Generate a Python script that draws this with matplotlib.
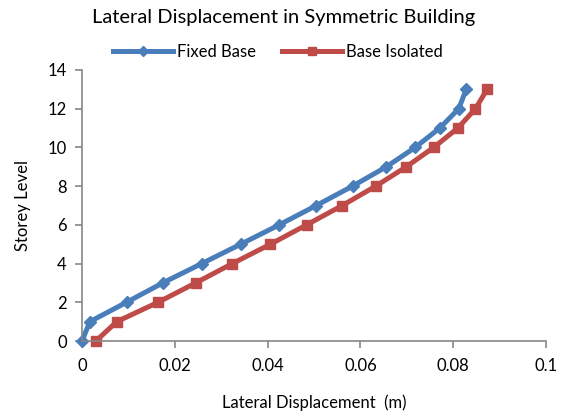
import matplotlib.pyplot as plt

# storey levels and lateral displacement (m)
storeys = list(range(0, 14))
fixed_base = [0.0, 0.0017, 0.0096, 0.0174, 0.0258, 0.0342, 0.0425, 0.0505,
              0.0583, 0.0656, 0.0718, 0.0771, 0.0812, 0.0828]
base_isolated = [0.0030, 0.0075, 0.0164, 0.0245, 0.0324, 0.0406, 0.0484, 0.0561,
                 0.0633, 0.0699, 0.0758, 0.0810, 0.0848, 0.0873]

plt.rcParams['font.family'] = ['Lato', 'DejaVu Sans']

fig = plt.figure(figsize=(5.67, 4.17), dpi=100)
ax = fig.add_axes([82 / 567, 1 - 341 / 417, (546 - 82) / 567, (341 - 70) / 417])

ax.plot(fixed_base, storeys, color='#4a7ebb', lw=3.6, marker='D', ms=6.5,
        label='Fixed Base', clip_on=False)
ax.plot(base_isolated, storeys, color='#be4b48', lw=3.6, marker='s', ms=6.5,
        label='Base Isolated', clip_on=False)

ax.set_xlim(0, 0.1)
ax.set_ylim(0, 14)
ax.set_xticks([0, 0.02, 0.04, 0.06, 0.08, 0.1])
ax.set_xticklabels(['0', '0.02', '0.04', '0.06', '0.08', '0.1'])
ax.set_yticks(range(0, 15, 2))

for s in ['top', 'right']:
    ax.spines[s].set_visible(False)
for s in ['left', 'bottom']:
    ax.spines[s].set_color('#868686')
    ax.spines[s].set_linewidth(1.2)
ax.tick_params(colors='#868686', labelcolor='black', labelsize=12, length=5, width=1.2)
ax.tick_params(axis='x', pad=7)
ax.tick_params(axis='y', pad=6)

ax.set_xlabel('Lateral Displacement  (m)', fontsize=12, labelpad=15)
ax.set_ylabel('Storey Level', fontsize=12, labelpad=12)
fig.text(0.5, 1 - 17 / 417, 'Lateral Displacement in Symmetric Building',
         ha='center', va='center', fontsize=14.5)

fig.legend(loc='center', bbox_to_anchor=(0.49, 1 - 52 / 417), ncol=2, frameon=False,
           fontsize=12, handlelength=3.6, columnspacing=1.6, handletextpad=0.2,
           markerscale=0.8)

fig.savefig('out.png', dpi=100)
